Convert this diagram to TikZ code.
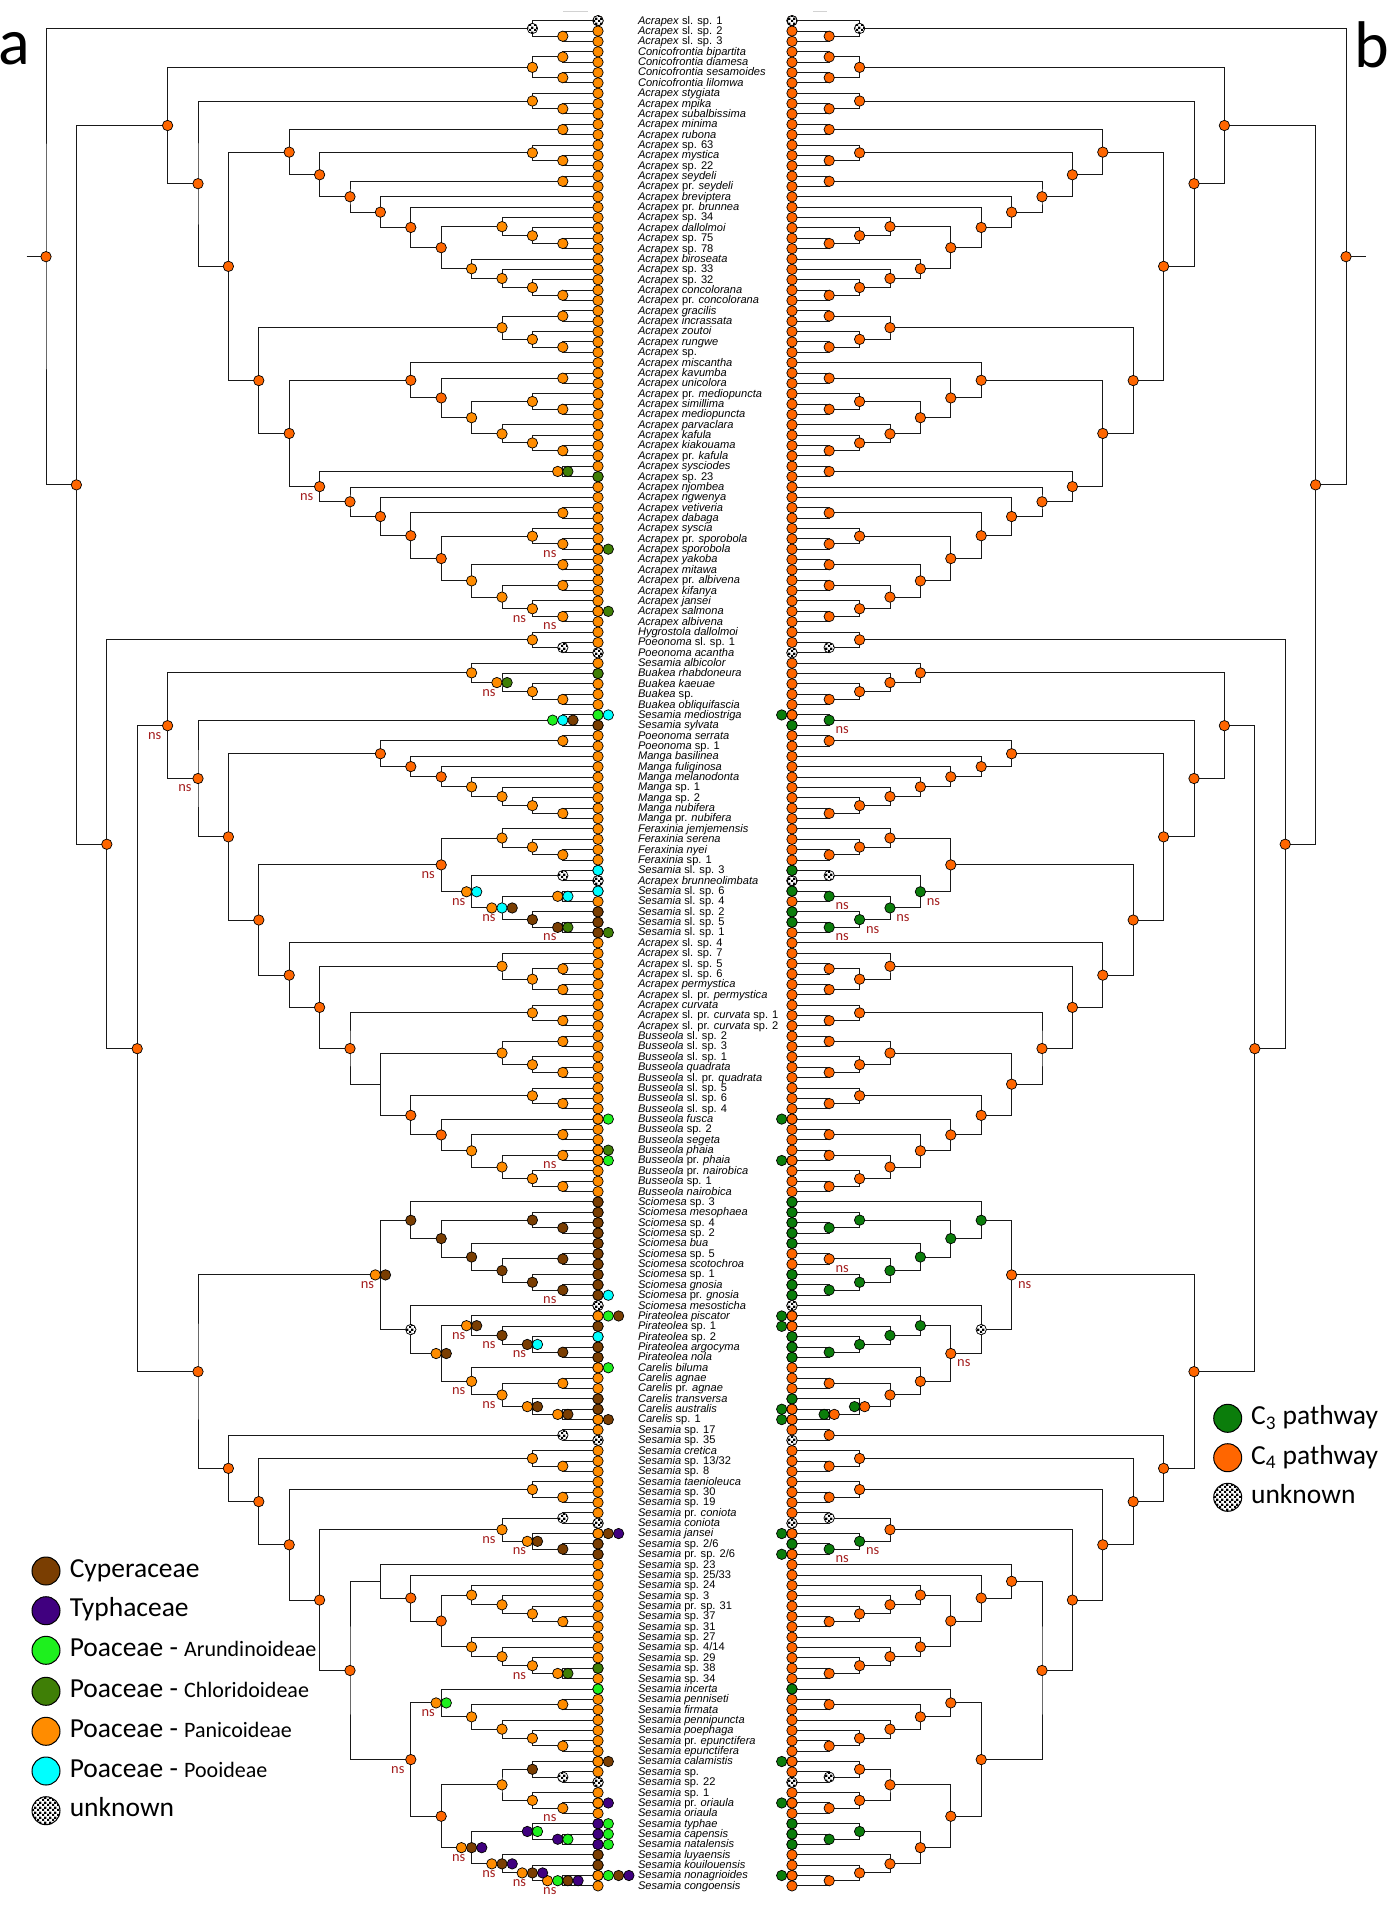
\documentclass[tikz,border=0pt]{standalone}
\usepackage{fontspec}
\setmainfont{Liberation Sans}
\newfontfamily\labf{Liberation Sans}
\newfontfamily\legf{Carlito}
\usetikzlibrary{calc,patterns}
\pgfdeclarelayer{bg}
\pgfdeclarelayer{edges}
\pgfsetlayers{bg,edges,main}
\pgfdeclarepatternformonly{fchk}{\pgfpointorigin}{\pgfqpoint{2.3pt}{2.3pt}}{\pgfqpoint{2.3pt}{2.3pt}}{\pgfpathrectangle{\pgfpointorigin}{\pgfqpoint{1.15pt}{1.15pt}}\pgfpathrectangle{\pgfqpoint{1.15pt}{1.15pt}}{\pgfqpoint{1.15pt}{1.15pt}}\pgfusepath{fill}}
\definecolor{cO}{HTML}{FF8C00}
\definecolor{cF}{HTML}{FF6600}
\definecolor{cD}{HTML}{3F7F06}
\definecolor{cG}{HTML}{1EF01E}
\definecolor{cB}{HTML}{7A3E02}
\definecolor{cP}{HTML}{40007F}
\definecolor{cC}{HTML}{00FFFF}
\definecolor{cT}{HTML}{0B7D0B}
\definecolor{nsred}{HTML}{A31D1D}
\newcommand\tI[1]{\textit{#1}}
\def\nodotspec{-}
\newcommand\mydots[4]{%
  \def\myspec{#2}%
  \ifx\myspec\empty\edef\myspec{#3}\fi
  \ifx\myspec\nodotspec\else
    \foreach \dc [count=\dk] in \myspec {\xdef\mynn{\dk}}%
    \foreach \dc [count=\dk] in \myspec {%
      \draw[\dc] ($(#1)+({#4*((\dk-1)*10.2-(\mynn-1)*5.1)},0)$) circle[radius=2.6pt];}%
  \fi}
\newcommand\nd[8]{%
  \coordinate (tmp) at ($(#3)!0.5!(#4)$);
  \coordinate (#1) at (tmp -| LX#2);
  \coordinate (R#1) at (tmp -| RX#2);
  \begin{pgfonlayer}{edges}
    \draw[br] (#3) -| (#1) |- (#4);
    \draw[br] (R#3) -| (R#1) |- (R#4);
  \end{pgfonlayer}
  \ifnum#2<14 \def\ldef{sF}\else\def\ldef{sO}\fi
  \mydots{#1}{#5}{\ldef}{1}%
  \mydots{R#1}{#6}{sF}{-1}%
  \ifnum#7=1 \node[ns] (ns-#1) at ($(#1)+(-13,10)$) {ns};\fi
  \ifnum#8=1 \node[ns] (nsR-#1) at ($(R#1)+(13,10)$) {ns};\fi
}
\newcommand\tL[2]{\foreach \dc [count=\dk] in {#2} {\draw[\dc] ($(t#1)+({(\dk-1)*10.3},0)$) circle[radius=2.6pt];}}
\newcommand\tR[2]{\foreach \dc [count=\dk] in {#2} {\draw[\dc] ($(Rt#1)+({-(\dk-1)*10.3},0)$) circle[radius=2.6pt];}}
\newcommand\lb[2]{\node[lab] (lab#1) at ($(t#1 -| LB)+(0,3.4)$) {#2};}
\begin{document}
\begin{tikzpicture}[x=0.5pt,y=-0.5pt,
  br/.style={draw=black!90, line width=0.5pt},
  dotbase/.style={draw=black, line width=0.35pt},
  sO/.style={dotbase, fill=cO},
  sF/.style={dotbase, fill=cF},
  sD/.style={dotbase, fill=cD},
  sG/.style={dotbase, fill=cG},
  sB/.style={dotbase, fill=cB},
  sP/.style={dotbase, fill=cP},
  sC/.style={dotbase, fill=cC},
  sT/.style={dotbase, fill=cT},
  sU/.style={dotbase, preaction={fill=white}, pattern=fchk},
  ns/.style={font=\legf\fontsize{7.2}{8}\selectfont, text=nsred, inner sep=0},
  lab/.style={font=\labf\fontsize{5.55}{6}\selectfont, anchor=base west, inner sep=0},
  leg/.style={font=\legf\fontsize{13.75}{15}\selectfont, anchor=base west, inner sep=0},
  big/.style={font=\legf\fontsize{33}{36}\selectfont, inner sep=0}]
\useasboundingbox (0,0) rectangle (1397,1908);
\begin{pgfonlayer}{bg}
\fill[white] (0,0) rectangle (1397,1908);
\end{pgfonlayer}
\foreach \k in {0,...,17} {\coordinate (LX\k) at ({46+30.4*\k},0); \coordinate (RX\k) at ({1346-30.4*\k},0);}
\coordinate (LB) at (637.6,0);
\foreach \i in {1,...,181} {%
  \coordinate (t\i) at (598,{20.7+10.362*(\i-1)});
  \coordinate (Rt\i) at (792,{20.7+10.362*(\i-1)});
  \draw[sO] (t\i) circle[radius=2.6pt];
  \draw[sF] (Rt\i) circle[radius=2.6pt];}
% tip special states
\tL{1}{sU} \tL{45}{sD} \tL{52}{sO,sD} \tL{58}{sO,sD} \tL{62}{sU} \tL{64}{sD}
\tL{68}{sG,sC} \tL{69}{sB} \tL{83}{sC} \tL{84}{sU} \tL{85}{sC} \tL{87}{sB} \tL{88}{sB}
\tL{89}{sB,sD} \tL{107}{sO,sG} \tL{110}{sO,sD} \tL{111}{sO,sG}
\foreach \i in {115,...,123} {\tL{\i}{sB}}
\tL{124}{sB,sC} \tL{125}{sU} \tL{126}{sO,sG,sB} \tL{127}{sB} \tL{128}{sC} \tL{129}{sB}
\tL{130}{sB} \tL{131}{sO,sG} \tL{134}{sB} \tL{135}{sB} \tL{136}{sO,sB} \tL{138}{sU}
\tL{146}{sU} \tL{147}{sO,sB,sP} \tL{148}{sB} \tL{149}{sB} \tL{160}{sD} \tL{162}{sG}
\tL{169}{sO,sB} \tL{171}{sU} \tL{173}{sO,sP} \tL{175}{sP,sG} \tL{176}{sP,sG} \tL{177}{sP,sG}
\tL{178}{sB} \tL{179}{sB} \tL{180}{sO,sG,sB,sP}
\tR{1}{sU} \tR{62}{sU} \tR{68}{sF,sT} \tR{69}{sT} \tR{83}{sT} \tR{84}{sU} \tR{85}{sT}
\tR{87}{sT} \tR{88}{sT} \tR{107}{sF,sT} \tR{111}{sF,sT}
\foreach \i in {115,...,119} {\tR{\i}{sT}}
\foreach \i in {122,123,124,128,129,130,134,148,162,175,176,177} {\tR{\i}{sT}}
\tR{125}{sU} \tR{126}{sF,sT} \tR{127}{sF,sT} \tR{135}{sF,sT} \tR{136}{sF,sT} \tR{138}{sU}
\tR{146}{sU} \tR{147}{sF,sT} \tR{149}{sF,sT} \tR{169}{sF,sT} \tR{171}{sU} \tR{173}{sF,sT}
\tR{180}{sF,sT}
% tree
\nd{a23}{17}{t2}{t3}{}{}{0}{0}
\nd{a13}{16}{t1}{a23}{sU}{sU}{0}{0}
\nd{a45}{17}{t4}{t5}{}{}{0}{0}
\nd{a67}{17}{t6}{t7}{}{}{0}{0}
\nd{a47}{16}{a45}{a67}{}{}{0}{0}
\nd{a910}{17}{t9}{t10}{}{}{0}{0}
\nd{a810}{16}{t8}{a910}{}{}{0}{0}
\nd{a1112}{17}{t11}{t12}{}{}{0}{0}
\nd{a1415}{17}{t14}{t15}{}{}{0}{0}
\nd{a1315}{16}{t13}{a1415}{}{}{0}{0}
\nd{a1617}{17}{t16}{t17}{}{}{0}{0}
\nd{a2223}{17}{t22}{t23}{}{}{0}{0}
\nd{a2123}{16}{t21}{a2223}{}{}{0}{0}
\nd{a2023}{15}{t20}{a2123}{}{}{0}{0}
\nd{a2728}{17}{t27}{t28}{}{}{0}{0}
\nd{a2628}{16}{t26}{a2728}{}{}{0}{0}
\nd{a2528}{15}{t25}{a2628}{}{}{0}{0}
\nd{a2428}{14}{t24}{a2528}{}{}{0}{0}
\nd{a2028}{13}{a2023}{a2428}{}{}{0}{0}
\nd{a1928}{12}{t19}{a2028}{}{}{0}{0}
\nd{a1828}{11}{t18}{a1928}{}{}{0}{0}
\nd{a1628}{10}{a1617}{a1828}{}{}{0}{0}
\nd{a1328}{9}{a1315}{a1628}{}{}{0}{0}
\nd{a1128}{8}{a1112}{a1328}{}{}{0}{0}
\nd{a2930}{17}{t29}{t30}{}{}{0}{0}
\nd{a3233}{17}{t32}{t33}{}{}{0}{0}
\nd{a3133}{16}{t31}{a3233}{}{}{0}{0}
\nd{a2933}{15}{a2930}{a3133}{}{}{0}{0}
\nd{a3536}{17}{t35}{t36}{}{}{0}{0}
\nd{a3839}{17}{t38}{t39}{}{}{0}{0}
\nd{a3739}{16}{t37}{a3839}{}{}{0}{0}
\nd{a4243}{17}{t42}{t43}{}{}{0}{0}
\nd{a4143}{16}{t41}{a4243}{}{}{0}{0}
\nd{a4043}{15}{t40}{a4143}{}{}{0}{0}
\nd{a3743}{14}{a3739}{a4043}{}{}{0}{0}
\nd{a3543}{13}{a3536}{a3743}{}{}{0}{0}
\nd{a3443}{12}{t34}{a3543}{}{}{0}{0}
\nd{a4445}{17}{t44}{t45}{sO,sD}{}{0}{0}
\nd{a4849}{17}{t48}{t49}{}{}{0}{0}
\nd{a5152}{17}{t51}{t52}{}{}{1}{0}
\nd{a5052}{16}{t50}{a5152}{}{}{0}{0}
\nd{a5354}{17}{t53}{t54}{}{}{0}{0}
\nd{a5556}{17}{t55}{t56}{}{}{0}{0}
\nd{a5859}{17}{t58}{t59}{}{}{1}{0}
\nd{a5759}{16}{t57}{a5859}{}{}{1}{0}
\nd{a5559}{15}{a5556}{a5759}{}{}{0}{0}
\nd{a5359}{14}{a5354}{a5559}{}{}{0}{0}
\nd{a5059}{13}{a5052}{a5359}{}{}{0}{0}
\nd{a4859}{12}{a4849}{a5059}{}{}{0}{0}
\nd{a4759}{11}{t47}{a4859}{}{}{0}{0}
\nd{a4659}{10}{t46}{a4759}{}{}{0}{0}
\nd{a4459}{9}{a4445}{a4659}{}{}{1}{0}
\nd{a3459}{8}{a3443}{a4459}{}{}{0}{0}
\nd{a2959}{7}{a2933}{a3459}{}{}{0}{0}
\nd{a1159}{6}{a1128}{a2959}{}{}{0}{0}
\nd{a859}{5}{a810}{a1159}{}{}{0}{0}
\nd{a459}{4}{a47}{a859}{}{}{0}{0}
\nd{a6162}{17}{t61}{t62}{sU}{sU}{0}{0}
\nd{a6062}{16}{t60}{a6162}{}{}{0}{0}
\nd{a6667}{17}{t66}{t67}{}{}{0}{0}
\nd{a6567}{16}{t65}{a6667}{}{}{0}{0}
\nd{a6467}{15}{t64}{a6567}{sO,sD}{}{1}{0}
\nd{a6367}{14}{t63}{a6467}{}{}{0}{0}
\nd{a6869}{17}{t68}{t69}{sG,sC,sB}{sT}{0}{1}
\nd{a7071}{17}{t70}{t71}{}{}{0}{0}
\nd{a7778}{17}{t77}{t78}{}{}{0}{0}
\nd{a7678}{16}{t76}{a7778}{}{}{0}{0}
\nd{a7578}{15}{t75}{a7678}{}{}{0}{0}
\nd{a7478}{14}{t74}{a7578}{}{}{0}{0}
\nd{a7378}{13}{t73}{a7478}{}{}{0}{0}
\nd{a7278}{12}{t72}{a7378}{}{}{0}{0}
\nd{a7078}{11}{a7071}{a7278}{}{}{0}{0}
\nd{a8182}{17}{t81}{t82}{}{}{0}{0}
\nd{a8082}{16}{t80}{a8182}{}{}{0}{0}
\nd{a7982}{15}{t79}{a8082}{}{}{0}{0}
\nd{a8384}{17}{t83}{t84}{sU}{sU}{0}{0}
\nd{a8586}{17}{t85}{t86}{sO,sC}{sT}{0}{1}
\nd{a8889}{17}{t88}{t89}{sB,sD}{sT}{1}{1}
\nd{a8789}{16}{t87}{a8889}{sB}{sT}{0}{1}
\nd{a8589}{15}{a8586}{a8789}{sO,sC,sB}{sT}{1}{1}
\nd{a8389}{14}{a8384}{a8589}{sO,sC}{sT}{1}{1}
\nd{a7989}{13}{a7982}{a8389}{}{}{1}{0}
\nd{a9293}{17}{t92}{t93}{}{}{0}{0}
\nd{a9495}{17}{t94}{t95}{}{}{0}{0}
\nd{a9295}{16}{a9293}{a9495}{}{}{0}{0}
\nd{a9195}{15}{t91}{a9295}{}{}{0}{0}
\nd{a9798}{17}{t97}{t98}{}{}{0}{0}
\nd{a9698}{16}{t96}{a9798}{}{}{0}{0}
\nd{a99100}{17}{t99}{t100}{}{}{0}{0}
\nd{a102103}{17}{t102}{t103}{}{}{0}{0}
\nd{a101103}{16}{t101}{a102103}{}{}{0}{0}
\nd{a99103}{15}{a99100}{a101103}{}{}{0}{0}
\nd{a105106}{17}{t105}{t106}{}{}{0}{0}
\nd{a104106}{16}{t104}{a105106}{}{}{0}{0}
\nd{a108109}{17}{t108}{t109}{}{}{0}{0}
\nd{a110111}{17}{t110}{t111}{}{}{1}{0}
\nd{a113114}{17}{t113}{t114}{}{}{0}{0}
\nd{a112114}{16}{t112}{a113114}{}{}{0}{0}
\nd{a110114}{15}{a110111}{a112114}{}{}{0}{0}
\nd{a108114}{14}{a108109}{a110114}{}{}{0}{0}
\nd{a107114}{13}{t107}{a108114}{}{}{0}{0}
\nd{a104114}{12}{a104106}{a107114}{}{}{0}{0}
\nd{a99114}{11}{a99103}{a104114}{-}{}{0}{0}
\nd{a96114}{10}{a9698}{a99114}{}{}{0}{0}
\nd{a91114}{9}{a9195}{a96114}{}{}{0}{0}
\nd{a90114}{8}{t90}{a91114}{}{}{0}{0}
\nd{a79114}{7}{a7989}{a90114}{}{}{0}{0}
\nd{a70114}{6}{a7078}{a79114}{}{}{0}{0}
\nd{a68114}{5}{a6869}{a70114}{}{}{1}{0}
\nd{a63114}{4}{a6367}{a68114}{}{}{1}{0}
\nd{a117118}{17}{t117}{t118}{sB}{sT}{0}{0}
\nd{a116118}{16}{t116}{a117118}{sB}{sT}{0}{0}
\nd{a120121}{17}{t120}{t121}{sB}{}{0}{1}
\nd{a123124}{17}{t123}{t124}{sB}{sT}{1}{0}
\nd{a122124}{16}{t122}{a123124}{sB}{sT}{0}{0}
\nd{a120124}{15}{a120121}{a122124}{sB}{sT}{0}{0}
\nd{a119124}{14}{t119}{a120124}{sB}{sT}{0}{0}
\nd{a116124}{13}{a116118}{a119124}{sB}{sT}{0}{0}
\nd{a115124}{12}{t115}{a116124}{sB}{sT}{0}{0}
\nd{a129130}{17}{t129}{t130}{sB}{sT}{0}{0}
\nd{a128130}{16}{t128}{a129130}{sB,sC}{sT}{1}{0}
\nd{a127130}{15}{t127}{a128130}{sB}{sT}{1}{0}
\nd{a126130}{14}{t126}{a127130}{sO,sB}{sT}{1}{0}
\nd{a132133}{17}{t132}{t133}{}{}{0}{0}
\nd{a135136}{17}{t135}{t136}{sO,sB}{sF,sT}{0}{0}
\nd{a134136}{16}{t134}{a135136}{sO,sB}{sF,sT}{0}{0}
\nd{a132136}{15}{a132133}{a134136}{}{}{1}{0}
\nd{a131136}{14}{t131}{a132136}{}{}{1}{0}
\nd{a126136}{13}{a126130}{a131136}{sO,sB}{}{0}{1}
\nd{a125136}{12}{t125}{a126136}{sU}{sU}{0}{0}
\nd{a115136}{11}{a115124}{a125136}{sO,sB}{}{1}{1}
\nd{a137138}{17}{t137}{t138}{sU}{}{0}{0}
\nd{a140141}{17}{t140}{t141}{}{}{0}{0}
\nd{a139141}{16}{t139}{a140141}{}{}{0}{0}
\nd{a143144}{17}{t143}{t144}{}{}{0}{0}
\nd{a142144}{16}{t142}{a143144}{}{}{0}{0}
\nd{a145146}{17}{t145}{t146}{sU}{sU}{0}{0}
\nd{a148149}{17}{t148}{t149}{sB}{sT}{0}{1}
\nd{a147149}{16}{t147}{a148149}{sO,sB}{sT}{1}{1}
\nd{a145149}{15}{a145146}{a147149}{}{}{1}{0}
\nd{a155156}{17}{t155}{t156}{}{}{0}{0}
\nd{a154156}{16}{t154}{a155156}{}{}{0}{0}
\nd{a153156}{15}{t153}{a154156}{}{}{0}{0}
\nd{a152156}{14}{t152}{a153156}{}{}{0}{0}
\nd{a160161}{17}{t160}{t161}{sO,sD}{}{0}{0}
\nd{a159161}{16}{t159}{a160161}{}{}{1}{0}
\nd{a158161}{15}{t158}{a159161}{}{}{0}{0}
\nd{a157161}{14}{t157}{a158161}{}{}{0}{0}
\nd{a152161}{13}{a152156}{a157161}{}{}{0}{0}
\nd{a151161}{12}{t151}{a152161}{}{}{0}{0}
\nd{a150161}{11}{t150}{a151161}{-}{}{0}{0}
\nd{a163164}{17}{t163}{t164}{}{}{0}{0}
\nd{a167168}{17}{t167}{t168}{}{}{0}{0}
\nd{a166168}{16}{t166}{a167168}{}{}{0}{0}
\nd{a165168}{15}{t165}{a166168}{}{}{0}{0}
\nd{a163168}{14}{a163164}{a165168}{}{}{0}{0}
\nd{a162168}{13}{t162}{a163168}{sO,sG}{}{1}{0}
\nd{a170171}{17}{t170}{t171}{sU}{sU}{0}{0}
\nd{a169171}{16}{t169}{a170171}{sB}{}{0}{0}
\nd{a173174}{17}{t173}{t174}{}{}{1}{0}
\nd{a172174}{16}{t172}{a173174}{}{}{0}{0}
\nd{a169174}{15}{a169171}{a172174}{}{}{0}{0}
\nd{a176177}{17}{t176}{t177}{sP,sG}{sT}{0}{0}
\nd{a175177}{16}{t175}{a176177}{sP,sG}{sT}{0}{0}
\nd{a180181}{17}{t180}{t181}{sO,sG,sB,sP}{}{1}{0}
\nd{a179181}{16}{t179}{a180181}{sO,sB,sP}{}{1}{0}
\nd{a178181}{15}{t178}{a179181}{sO,sB,sP}{}{1}{0}
\nd{a175181}{14}{a175177}{a178181}{sO,sB,sP}{}{1}{0}
\nd{a169181}{13}{a169174}{a175181}{}{}{0}{0}
\nd{a162181}{12}{a162168}{a169181}{}{}{1}{0}
\nd{a150181}{10}{a150161}{a162181}{}{}{0}{0}
\nd{a145181}{9}{a145149}{a150181}{}{}{0}{0}
\nd{a142181}{8}{a142144}{a145181}{}{}{0}{0}
\nd{a139181}{7}{a139141}{a142181}{}{}{0}{0}
\nd{a137181}{6}{a137138}{a139181}{}{}{0}{0}
\nd{a115181}{5}{a115136}{a137181}{}{}{0}{0}
\nd{a63181}{3}{a63114}{a115181}{}{}{0}{0}
\nd{a60181}{2}{a6062}{a63181}{}{}{0}{0}
\nd{a4181}{1}{a459}{a60181}{}{}{0}{0}
\nd{root}{0}{a13}{a4181}{}{}{0}{0}
\coordinate (stubL) at ($(root)+(-19.5,0)$);
\coordinate (stubR) at ($(Rroot)+(19.5,0)$);
\begin{pgfonlayer}{edges}
\draw[br] (stubL) -- (root);
\draw[br] (Rroot) -- (stubR);
\draw[gray!35, line width=0.5pt] (563,11) -- (588,11);
\draw[gray!35, line width=0.5pt] (813,11) -- (827,11);
\end{pgfonlayer}
% labels
\lb{1}{\tI{Acrapex} sl. sp. 1}
\lb{2}{\tI{Acrapex} sl. sp. 2}
\lb{3}{\tI{Acrapex} sl. sp. 3}
\lb{4}{\tI{Conicofrontia bipartita}}
\lb{5}{\tI{Conicofrontia diamesa}}
\lb{6}{\tI{Conicofrontia sesamoides}}
\lb{7}{\tI{Conicofrontia lilomwa}}
\lb{8}{\tI{Acrapex stygiata}}
\lb{9}{\tI{Acrapex mpika}}
\lb{10}{\tI{Acrapex subalbissima}}
\lb{11}{\tI{Acrapex minima}}
\lb{12}{\tI{Acrapex rubona}}
\lb{13}{\tI{Acrapex} sp. 63}
\lb{14}{\tI{Acrapex mystica}}
\lb{15}{\tI{Acrapex} sp. 22}
\lb{16}{\tI{Acrapex seydeli}}
\lb{17}{\tI{Acrapex} pr. \tI{seydeli}}
\lb{18}{\tI{Acrapex breviptera}}
\lb{19}{\tI{Acrapex} pr. \tI{brunnea}}
\lb{20}{\tI{Acrapex} sp. 34}
\lb{21}{\tI{Acrapex dallolmoi}}
\lb{22}{\tI{Acrapex} sp. 75}
\lb{23}{\tI{Acrapex} sp. 78}
\lb{24}{\tI{Acrapex biroseata}}
\lb{25}{\tI{Acrapex} sp. 33}
\lb{26}{\tI{Acrapex} sp. 32}
\lb{27}{\tI{Acrapex concolorana}}
\lb{28}{\tI{Acrapex} pr. \tI{concolorana}}
\lb{29}{\tI{Acrapex gracilis}}
\lb{30}{\tI{Acrapex incrassata}}
\lb{31}{\tI{Acrapex zoutoi}}
\lb{32}{\tI{Acrapex rungwe}}
\lb{33}{\tI{Acrapex} sp.}
\lb{34}{\tI{Acrapex miscantha}}
\lb{35}{\tI{Acrapex kavumba}}
\lb{36}{\tI{Acrapex unicolora}}
\lb{37}{\tI{Acrapex} pr. \tI{mediopuncta}}
\lb{38}{\tI{Acrapex simillima}}
\lb{39}{\tI{Acrapex mediopuncta}}
\lb{40}{\tI{Acrapex parvaclara}}
\lb{41}{\tI{Acrapex kafula}}
\lb{42}{\tI{Acrapex kiakouama}}
\lb{43}{\tI{Acrapex} pr. \tI{kafula}}
\lb{44}{\tI{Acrapex sysciodes}}
\lb{45}{\tI{Acrapex} sp. 23}
\lb{46}{\tI{Acrapex njombea}}
\lb{47}{\tI{Acrapex ngwenya}}
\lb{48}{\tI{Acrapex vetiveria}}
\lb{49}{\tI{Acrapex dabaga}}
\lb{50}{\tI{Acrapex syscia}}
\lb{51}{\tI{Acrapex} pr. \tI{sporobola}}
\lb{52}{\tI{Acrapex sporobola}}
\lb{53}{\tI{Acrapex yakoba}}
\lb{54}{\tI{Acrapex mitawa}}
\lb{55}{\tI{Acrapex} pr. \tI{albivena}}
\lb{56}{\tI{Acrapex kifanya}}
\lb{57}{\tI{Acrapex jansei}}
\lb{58}{\tI{Acrapex salmona}}
\lb{59}{\tI{Acrapex albivena}}
\lb{60}{\tI{Hygrostola dallolmoi}}
\lb{61}{\tI{Poeonoma} sl. sp. 1}
\lb{62}{\tI{Poeonoma acantha}}
\lb{63}{\tI{Sesamia albicolor}}
\lb{64}{\tI{Buakea rhabdoneura}}
\lb{65}{\tI{Buakea kaeuae}}
\lb{66}{\tI{Buakea} sp.}
\lb{67}{\tI{Buakea obliquifascia}}
\lb{68}{\tI{Sesamia mediostriga}}
\lb{69}{\tI{Sesamia sylvata}}
\lb{70}{\tI{Poeonoma serrata}}
\lb{71}{\tI{Poeonoma} sp. 1}
\lb{72}{\tI{Manga basilinea}}
\lb{73}{\tI{Manga fuliginosa}}
\lb{74}{\tI{Manga melanodonta}}
\lb{75}{\tI{Manga} sp. 1}
\lb{76}{\tI{Manga} sp. 2}
\lb{77}{\tI{Manga nubifera}}
\lb{78}{\tI{Manga} pr. \tI{nubifera}}
\lb{79}{\tI{Feraxinia jemjemensis}}
\lb{80}{\tI{Feraxinia serena}}
\lb{81}{\tI{Feraxinia nyei}}
\lb{82}{\tI{Feraxinia} sp. 1}
\lb{83}{\tI{Sesamia} sl. sp. 3}
\lb{84}{\tI{Acrapex brunneolimbata}}
\lb{85}{\tI{Sesamia} sl. sp. 6}
\lb{86}{\tI{Sesamia} sl. sp. 4}
\lb{87}{\tI{Sesamia} sl. sp. 2}
\lb{88}{\tI{Sesamia} sl. sp. 5}
\lb{89}{\tI{Sesamia} sl. sp. 1}
\lb{90}{\tI{Acrapex} sl. sp. 4}
\lb{91}{\tI{Acrapex} sl. sp. 7}
\lb{92}{\tI{Acrapex} sl. sp. 5}
\lb{93}{\tI{Acrapex} sl. sp. 6}
\lb{94}{\tI{Acrapex permystica}}
\lb{95}{\tI{Acrapex} sl. pr. \tI{permystica}}
\lb{96}{\tI{Acrapex curvata}}
\lb{97}{\tI{Acrapex} sl. pr. \tI{curvata} sp. 1}
\lb{98}{\tI{Acrapex} sl. pr. \tI{curvata} sp. 2}
\lb{99}{\tI{Busseola} sl. sp. 2}
\lb{100}{\tI{Busseola} sl. sp. 3}
\lb{101}{\tI{Busseola} sl. sp. 1}
\lb{102}{\tI{Busseola quadrata}}
\lb{103}{\tI{Busseola} sl. pr. \tI{quadrata}}
\lb{104}{\tI{Busseola} sl. sp. 5}
\lb{105}{\tI{Busseola} sl. sp. 6}
\lb{106}{\tI{Busseola} sl. sp. 4}
\lb{107}{\tI{Busseola fusca}}
\lb{108}{\tI{Busseola} sp. 2}
\lb{109}{\tI{Busseola segeta}}
\lb{110}{\tI{Busseola phaia}}
\lb{111}{\tI{Busseola} pr. \tI{phaia}}
\lb{112}{\tI{Busseola} pr. \tI{nairobica}}
\lb{113}{\tI{Busseola} sp. 1}
\lb{114}{\tI{Busseola nairobica}}
\lb{115}{\tI{Sciomesa} sp. 3}
\lb{116}{\tI{Sciomesa mesophaea}}
\lb{117}{\tI{Sciomesa} sp. 4}
\lb{118}{\tI{Sciomesa} sp. 2}
\lb{119}{\tI{Sciomesa bua}}
\lb{120}{\tI{Sciomesa} sp. 5}
\lb{121}{\tI{Sciomesa scotochroa}}
\lb{122}{\tI{Sciomesa} sp. 1}
\lb{123}{\tI{Sciomesa gnosia}}
\lb{124}{\tI{Sciomesa} pr. \tI{gnosia}}
\lb{125}{\tI{Sciomesa mesosticha}}
\lb{126}{\tI{Pirateolea piscator}}
\lb{127}{\tI{Pirateolea} sp. 1}
\lb{128}{\tI{Pirateolea} sp. 2}
\lb{129}{\tI{Pirateolea argocyma}}
\lb{130}{\tI{Pirateolea nola}}
\lb{131}{\tI{Carelis biluma}}
\lb{132}{\tI{Carelis agnae}}
\lb{133}{\tI{Carelis} pr. \tI{agnae}}
\lb{134}{\tI{Carelis transversa}}
\lb{135}{\tI{Carelis australis}}
\lb{136}{\tI{Carelis} sp. 1}
\lb{137}{\tI{Sesamia} sp. 17}
\lb{138}{\tI{Sesamia} sp. 35}
\lb{139}{\tI{Sesamia cretica}}
\lb{140}{\tI{Sesamia} sp. 13/32}
\lb{141}{\tI{Sesamia} sp. 8}
\lb{142}{\tI{Sesamia taenioleuca}}
\lb{143}{\tI{Sesamia} sp. 30}
\lb{144}{\tI{Sesamia} sp. 19}
\lb{145}{\tI{Sesamia} pr. \tI{coniota}}
\lb{146}{\tI{Sesamia coniota}}
\lb{147}{\tI{Sesamia jansei}}
\lb{148}{\tI{Sesamia} sp. 2/6}
\lb{149}{\tI{Sesamia} pr. sp. 2/6}
\lb{150}{\tI{Sesamia} sp. 23}
\lb{151}{\tI{Sesamia} sp. 25/33}
\lb{152}{\tI{Sesamia} sp. 24}
\lb{153}{\tI{Sesamia} sp. 3}
\lb{154}{\tI{Sesamia} pr. sp. 31}
\lb{155}{\tI{Sesamia} sp. 37}
\lb{156}{\tI{Sesamia} sp. 31}
\lb{157}{\tI{Sesamia} sp. 27}
\lb{158}{\tI{Sesamia} sp. 4/14}
\lb{159}{\tI{Sesamia} sp. 29}
\lb{160}{\tI{Sesamia} sp. 38}
\lb{161}{\tI{Sesamia} sp. 34}
\lb{162}{\tI{Sesamia incerta}}
\lb{163}{\tI{Sesamia penniseti}}
\lb{164}{\tI{Sesamia firmata}}
\lb{165}{\tI{Sesamia pennipuncta}}
\lb{166}{\tI{Sesamia poephaga}}
\lb{167}{\tI{Sesamia} pr. \tI{epunctifera}}
\lb{168}{\tI{Sesamia epunctifera}}
\lb{169}{\tI{Sesamia calamistis}}
\lb{170}{\tI{Sesamia} sp.}
\lb{171}{\tI{Sesamia} sp. 22}
\lb{172}{\tI{Sesamia} sp. 1}
\lb{173}{\tI{Sesamia} pr. \tI{oriaula}}
\lb{174}{\tI{Sesamia oriaula}}
\lb{175}{\tI{Sesamia typhae}}
\lb{176}{\tI{Sesamia capensis}}
\lb{177}{\tI{Sesamia natalensis}}
\lb{178}{\tI{Sesamia luyaensis}}
\lb{179}{\tI{Sesamia kouilouensis}}
\lb{180}{\tI{Sesamia nonagrioides}}
\lb{181}{\tI{Sesamia congoensis}}
% panel letters
\node[big] (pa) at (14.6,48.7) {a};
\node[big] (pb) at (1371.5,45) {b};
% left legend
\draw[sB, line width=0.5pt] (46,1571) circle[radius=7pt];
\draw[sP, line width=0.5pt] (46,1610.7) circle[radius=7pt];
\draw[sG, line width=0.5pt] (46,1650.3) circle[radius=7pt];
\draw[sD, line width=0.5pt] (46,1691.3) circle[radius=7pt];
\draw[sO, line width=0.5pt] (46,1731.3) circle[radius=7pt];
\draw[sC, line width=0.5pt] (46,1771) circle[radius=7pt];
\draw[sU, line width=0.5pt] (46,1810.7) circle[radius=7pt];
\node[leg] (lg1) at (69.4,1577) {Cyperaceae};
\node[leg] (lg2) at (69.4,1616.7) {Typhaceae};
\node[leg] (lg3) at (69.4,1656.3) {Poaceae - {\fontsize{11}{12}\selectfont Arundinoideae}};
\node[leg] (lg4) at (69.4,1697.3) {Poaceae - {\fontsize{11}{12}\selectfont Chloridoideae}};
\node[leg] (lg5) at (69.4,1737.3) {Poaceae - {\fontsize{11}{12}\selectfont Panicoideae}};
\node[leg] (lg6) at (69.4,1777) {Poaceae - {\fontsize{11}{12}\selectfont Pooideae}};
\node[leg] (lg7) at (69.4,1816.7) {unknown};
% right legend
\draw[sT, line width=0.5pt] (1227.7,1418.3) circle[radius=7pt];
\draw[sF, line width=0.5pt] (1227.7,1457.7) circle[radius=7pt];
\draw[sU, line width=0.5pt] (1227.7,1497.3) circle[radius=7pt];
\node[leg] (rg1) at (1250.7,1424.8) {C\textsubscript{3} pathway};
\node[leg] (rg2) at (1250.7,1464.2) {C\textsubscript{4} pathway};
\node[leg] (rg3) at (1250.7,1503.8) {unknown};
\end{tikzpicture}
\end{document}
